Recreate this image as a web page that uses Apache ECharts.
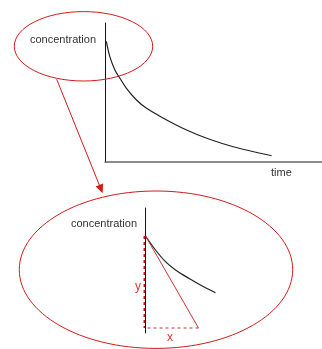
<!DOCTYPE html>
<html>
<head>
<meta charset="utf-8">
<script src="https://cdn.jsdelivr.net/npm/echarts@6/dist/echarts.min.js"></script>
<style>
  html, body { margin: 0; padding: 0; background: #fff; }
  #chart { width: 322px; height: 349px; }
</style>
</head>
<body>
<div id="chart"></div>
<script>
// top plot: concentration against time
const topTime = [0.6, 2.2, 4.5, 6.8, 9.8, 14.4, 19.0, 26.7, 37.6, 46.9, 59.1, 76.8];
const topConc = [86.8, 76.0, 66.4, 60.4, 53.2, 44.8, 38.8, 31.7, 23.0, 17.1, 11.0, 4.5];

// zoomed-in start of the curve
const zoomTime = [0, 10, 20, 30, 43.3, 56.7, 70];
const zoomConc = [97, 83, 71.3, 63, 54.7, 47, 40.3];

// tangent and its x / y legs
const tangent = [[0, 97], [53, 5]];
const legY = [[-1.2, 97], [-1.2, 5]];
const legX = [[2, 5], [53, 5]];

const red = '#d41a1a';
const font = 'Liberation Sans, Arial, sans-serif';

function pairs(xs, ys) {
    return xs.map(function (x, i) { return [x, ys[i]]; });
}

let chart = echarts.init(document.getElementById('chart'));
chart.setOption({
    animation: false,
    backgroundColor: '#fff',
    grid: [
        {left: 105, top: 23, width: 217, height: 139},
        {left: 144, top: 208, width: 100, height: 125}
    ],
    xAxis: [
        {
            gridIndex: 0, type: 'value', min: 0, max: 100,
            axisLine: {lineStyle: {color: '#666', width: 1.5}},
            axisTick: {show: false}, axisLabel: {show: false}, splitLine: {show: false}
        },
        {
            gridIndex: 1, type: 'value', min: -1.5, max: 98.5, show: false
        }
    ],
    yAxis: [
        {
            gridIndex: 0, type: 'value', min: 0, max: 100,
            axisLine: {show: true, lineStyle: {color: '#111', width: 1}},
            axisTick: {show: false}, axisLabel: {show: false}, splitLine: {show: false}
        },
        {
            gridIndex: 1, type: 'value', min: 0, max: 125,
            axisLine: {show: true, onZero: true, lineStyle: {color: '#111', width: 1}},
            axisTick: {show: false}, axisLabel: {show: false}, splitLine: {show: false}
        }
    ],
    series: [
        {
            type: 'line', xAxisIndex: 0, yAxisIndex: 0, smooth: 0.3, showSymbol: false,
            data: pairs(topTime, topConc),
            lineStyle: {color: '#222', width: 1.2}
        },
        {
            type: 'line', xAxisIndex: 1, yAxisIndex: 1, smooth: 0.3, showSymbol: false,
            data: pairs(zoomTime, zoomConc),
            lineStyle: {color: '#222', width: 1.2}, z: 3
        },
        {
            type: 'line', xAxisIndex: 1, yAxisIndex: 1, showSymbol: false,
            data: tangent,
            lineStyle: {color: '#c33', width: 1}
        },
        {
            type: 'line', xAxisIndex: 1, yAxisIndex: 1, showSymbol: false,
            data: legY,
            lineStyle: {color: '#cc1111', width: 1.6, type: [3, 3]}
        },
        {
            type: 'line', xAxisIndex: 1, yAxisIndex: 1, showSymbol: false,
            data: legX,
            lineStyle: {color: '#c55', width: 1.2, type: [3, 3]}
        }
    ],
    graphic: [
        // ellipses
        {type: 'ellipse', shape: {cx: 83.5, cy: 46.3, rx: 69.2, ry: 34.7},
            style: {fill: 'none', stroke: red, lineWidth: 1}, z: 10},
        {type: 'ellipse', shape: {cx: 156, cy: 269.7, rx: 136.7, ry: 78.7},
            style: {fill: 'none', stroke: red, lineWidth: 1}, z: 10},
        // arrow
        {type: 'line', shape: {x1: 56.7, y1: 79.3, x2: 99.5, y2: 185.5},
            style: {stroke: red, lineWidth: 1}, z: 10},
        {type: 'polygon', shape: {points: [[102.7, 193.3], [95.6, 186.5], [103, 183.5]]},
            style: {fill: red}, z: 10},
        // labels
        {type: 'text', x: 30, y: 40,
            style: {text: 'concentration', font: '11px ' + font, fill: '#333', textVerticalAlign: 'middle'}, z: 10},
        {type: 'text', x: 271, y: 173,
            style: {text: 'time', font: '11px ' + font, fill: '#333', textVerticalAlign: 'middle'}, z: 10},
        {type: 'text', x: 71, y: 224,
            style: {text: 'concentration', font: '11px ' + font, fill: '#333', textVerticalAlign: 'middle'}, z: 10},
        {type: 'text', x: 138, y: 287,
            style: {text: 'y', font: '12px ' + font, fill: '#d33', textAlign: 'center', textVerticalAlign: 'middle'}, z: 10},
        {type: 'text', x: 170, y: 338,
            style: {text: 'x', font: '12px ' + font, fill: '#d33', textAlign: 'center', textVerticalAlign: 'middle'}, z: 10}
    ]
});
</script>
</body>
</html>
